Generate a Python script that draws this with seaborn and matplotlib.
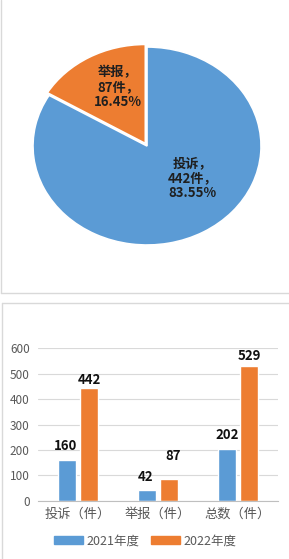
"""Complaint / report counts: pie of 2022 share plus bar comparison by year."""

import matplotlib

matplotlib.use("Agg")
import matplotlib.pyplot as plt
import pandas as pd
import seaborn as sns
from matplotlib.lines import Line2D

# pie data (2022)
pie_names = ["举报", "投诉"]
pie_counts = [87, 442]
pie_pcts = ["16.45%", "83.55%"]

# bar data
categories = ["投诉（件）", "举报（件）", "总数（件）"]
years = ["2021年度", "2022年度"]
counts_2021 = [160, 42, 202]
counts_2022 = [442, 87, 529]
yticks = [0, 100, 200, 300, 400, 500, 600]

BLUE = "#5B9BD5"
ORANGE = "#ED7D31"
GRAY = "#595959"
GRID = "#d9d9d9"


def main():
    """Go Main Go."""
    sns.set_theme(style="white")
    plt.rcParams["font.family"] = ["Noto Sans CJK SC", "DejaVu Sans"]

    W, H = 289, 559
    fig = plt.figure(figsize=(W / 100, H / 100), dpi=100)

    # ---- pie, drawn as an ellipse like the original
    ax1 = fig.add_axes([0.0747, 0.544, 0.868, 0.3896])
    ax1.pie(
        pie_counts,
        colors=[ORANGE, BLUE],
        startangle=90,
        counterclock=True,
        explode=[0.03, 0],
        wedgeprops={"edgecolor": "white", "linewidth": 1.2},
    )
    ax1.set_aspect("auto")
    ax1.set_xlim(-1.1, 1.1)
    ax1.set_ylim(-1.1, 1.1)
    label_pos = [(-0.254, 0.596), (0.40, -0.323)]
    for name, cnt, pct, (x, y) in zip(pie_names, pie_counts, pie_pcts, label_pos):
        ax1.text(
            x, y, f"{name}，\n{cnt}件，\n{pct}",
            ha="center", va="center", fontsize=9.5, fontweight="bold",
            color="#1f1f1f", linespacing=1.1,
        )

    # ---- grouped bars
    df = pd.DataFrame(
        {
            "cat": categories * 2,
            "year": [years[0]] * 3 + [years[1]] * 3,
            "val": counts_2021 + counts_2022,
        }
    )
    ax2 = fig.add_axes([0.1315, 0.1043, 0.8304, 0.2726])
    sns.barplot(
        data=df, x="cat", y="val", hue="year", palette=[BLUE, ORANGE],
        width=0.55, gap=0.18, ax=ax2, legend=False, saturation=1,
    )
    ax2.set_ylim(0, 600)
    ax2.set_yticks(yticks)
    ax2.yaxis.grid(True, color=GRID, linewidth=0.8)
    ax2.set_axisbelow(True)
    for side in ["top", "right", "left"]:
        ax2.spines[side].set_visible(False)
    ax2.spines["bottom"].set_color("#bfbfbf")
    ax2.spines["bottom"].set_linewidth(0.8)
    ax2.set_xlabel("")
    ax2.set_ylabel("")
    ax2.tick_params(axis="y", length=0, pad=6, labelsize=8.5, labelcolor=GRAY)
    ax2.tick_params(axis="x", length=0, pad=5, labelsize=9.5, labelcolor=GRAY)

    # value labels, nudged per bar like the hand-placed originals (px)
    label_dy = [14, 13, 14, 8, 23, 10]
    label_dx = [-1, -1, 0, 0, 4, 0]
    bars = ax2.patches
    for bar, dy, dx in zip(bars, label_dy, label_dx):
        h = bar.get_height()
        ax2.annotate(
            f"{h:.0f}",
            (bar.get_x() + bar.get_width() / 2, h),
            xytext=(dx * 0.72, dy * 0.72),
            textcoords="offset points",
            ha="center", va="center", fontsize=9.5, fontweight="bold",
            color="#111111",
        )

    handles = [
        plt.Rectangle((0, 0), 1, 1, color=BLUE),
        plt.Rectangle((0, 0), 1, 1, color=ORANGE),
    ]
    leg = fig.legend(
        handles, years, loc="center", bbox_to_anchor=(0.503, 18 / H),
        ncol=2, frameon=False, fontsize=9, handlelength=2.3,
        handleheight=0.65, handletextpad=0.3, columnspacing=0.9,
    )
    for t in leg.get_texts():
        t.set_color(GRAY)

    # panel borders
    def px_line(xs, ys):
        fig.add_artist(
            Line2D([x / W for x in xs], [1 - y / H for y in ys],
                   color=GRID, linewidth=1.0, transform=fig.transFigure)
        )

    px_line([1, 1], [0, 293])
    px_line([1, W], [293, 293])
    px_line([2, W], [303, 303])
    px_line([2, 2], [303, H])

    fig.savefig("out.png", dpi=100)


if __name__ == "__main__":
    main()
